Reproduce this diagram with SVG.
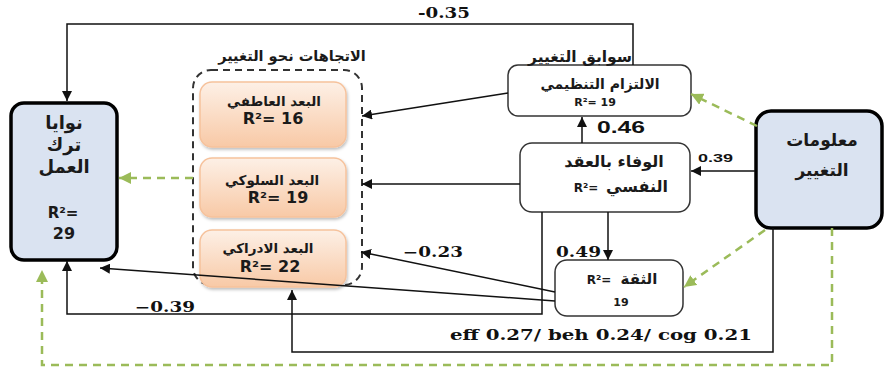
<svg xmlns="http://www.w3.org/2000/svg" width="885" height="367" viewBox="0 0 885 367">
<defs>
<marker id="ab" viewBox="0 0 10 10" refX="10" refY="5" markerWidth="10" markerHeight="10" markerUnits="userSpaceOnUse" orient="auto">
<path d="M0,0 L10,5 L0,10 z" fill="#111"/>
</marker>
<marker id="ag" viewBox="0 0 10 10" refX="10" refY="5" markerWidth="12" markerHeight="12" markerUnits="userSpaceOnUse" orient="auto">
<path d="M0,0 L10,5 L0,10 z" fill="#9bbb59"/>
</marker>
<linearGradient id="og" x1="0" y1="0" x2="0" y2="1">
<stop offset="0" stop-color="#fdf0e6"/>
<stop offset="1" stop-color="#f8c9a6"/>
</linearGradient>
<filter id="sh" x="-10%" y="-10%" width="120%" height="130%">
<feDropShadow dx="1" dy="2" stdDeviation="1.5" flood-color="#000" flood-opacity="0.25"/>
</filter>
</defs>
<style>
.ar{font-family:"DejaVu Sans","Noto Sans",sans-serif;font-weight:bold;fill:#1a1a1a;text-anchor:middle}
.lb{font-family:"DejaVu Sans","Liberation Sans",sans-serif;font-weight:bold;fill:#1a1a1a;text-anchor:middle}
.num{font-family:"DejaVu Serif","Liberation Serif",serif;font-weight:bold;fill:#111}
.nums{font-family:"Liberation Sans","DejaVu Sans",sans-serif;font-weight:bold;fill:#111}
.blk{fill:none;stroke:#111;stroke-width:1.5}
.grn{fill:none;stroke:#9bbb59;stroke-width:2.5;stroke-dasharray:8,6}
.orb{fill:url(#og);stroke:#f6c29c;stroke-width:1.5;filter:url(#sh)}
.wb{fill:#fff;stroke:#333;stroke-width:1.5}
.bb{fill:#dae3f1;stroke:#000;stroke-width:3.5}
</style>

<g id="intent">
<rect class="bb" x="11" y="103" width="106" height="157" rx="13"/>
<text class="ar" x="64" y="129" font-size="18">نوايا</text>
<text class="ar" x="64" y="151" font-size="18">ترك</text>
<text class="ar" x="64" y="173" font-size="18">العمل</text>
<text class="lb" x="63" y="218" font-size="15">R²=</text>
<text class="lb" x="64" y="239" font-size="16">29</text>
</g>

<g id="attitudes">
<rect x="193" y="70" width="169" height="215" rx="18" fill="none" stroke="#333" stroke-width="2" stroke-dasharray="7,5"/>
<text class="ar" x="292" y="61" font-size="14.5">الاتجاهات نحو التغيير</text>
</g>

<g id="affective">
<rect class="orb" x="200" y="82" width="146" height="65" rx="12"/>
<text class="ar" x="274" y="106" font-size="13.5">البعد العاطفي</text>
<text class="lb" x="273" y="124" font-size="16">R²= 16</text>
</g>

<g id="behavioral">
<rect class="orb" x="200" y="158" width="146" height="59" rx="12"/>
<text class="ar" x="272" y="185" font-size="13.5">البعد السلوكي</text>
<text class="lb" x="278" y="203" font-size="16">R²= 19</text>
</g>

<g id="cognitive">
<rect class="orb" x="200" y="230" width="146" height="57" rx="12"/>
<text class="ar" x="268" y="253" font-size="13.5">البعد الادراكي</text>
<text class="lb" x="270" y="272" font-size="16">R²= 22</text>
</g>

<g id="commitment">
<rect class="wb" x="508" y="65" width="183" height="51" rx="10"/>
<text class="ar" x="580" y="62" font-size="15.5">سوابق التغيير</text>
<text class="ar" x="600" y="89" font-size="14">الالتزام التنظيمي</text>
<text class="lb" x="595" y="106" font-size="11">R²= 19</text>
</g>

<g id="contract">
<rect class="wb" x="520" y="143" width="170" height="69" rx="12"/>
<text class="ar" x="614" y="167" font-size="16">الوفاء بالعقد</text>
<text class="ar" x="637" y="192" font-size="16">النفسي</text>
<text class="lb" x="586" y="192" font-size="12">R²=</text>
</g>

<g id="trust">
<rect class="wb" x="555" y="260" width="128" height="56" rx="12"/>
<text class="ar" x="639" y="284" font-size="15">الثقة</text>
<text class="lb" x="599" y="284" font-size="12">R²=</text>
<text class="lb" x="621" y="306" font-size="11">19</text>
</g>

<g id="info">
<rect class="bb" x="756" y="111" width="126" height="117" rx="15"/>
<text class="ar" x="822" y="146" font-size="17" font-weight="normal">معلومات</text>
<text class="ar" x="822" y="176" font-size="17" font-weight="normal">التغيير</text>
</g>

<g id="connectors">
<path class="blk" d="M633,65 V24 H67 V101" marker-end="url(#ab)"/>
<path class="blk" d="M508,93 L362,116" marker-end="url(#ab)"/>
<path class="blk" d="M520,184 H362" marker-end="url(#ab)"/>
<path class="blk" d="M755,171 H691" marker-end="url(#ab)"/>
<path class="blk" d="M582,143 V117" marker-end="url(#ab)"/>
<path class="blk" d="M608,212 V260" marker-end="url(#ab)"/>
<path class="blk" d="M555,292 L361,252" marker-end="url(#ab)"/>
<path class="blk" d="M555,301 L100,268" marker-end="url(#ab)"/>
<path class="blk" d="M542,212 V314 H67 V261" marker-end="url(#ab)"/>
<path class="blk" d="M773,228 V352 H292 V290" marker-end="url(#ab)"/>
<path class="grn" d="M832,228 V365 H42 V270" marker-end="url(#ag)"/>
<path class="grn" d="M193,178 H119" marker-end="url(#ag)"/>
<path class="grn" d="M757,126 L691,94" marker-end="url(#ag)"/>
<path class="grn" d="M765,230 L684,287" marker-end="url(#ag)"/>
<text class="num" x="418" y="18" font-size="15" textLength="52" lengthAdjust="spacingAndGlyphs">-0.35</text>
<text class="nums" x="597" y="133" font-size="16" textLength="48" lengthAdjust="spacingAndGlyphs">0.46</text>
<text class="nums" x="698" y="162" font-size="11" textLength="35" lengthAdjust="spacingAndGlyphs">0.39</text>
<text class="num" x="403" y="257" font-size="14" textLength="60" lengthAdjust="spacingAndGlyphs">−0.23</text>
<text class="num" x="556" y="257" font-size="14" textLength="45" lengthAdjust="spacingAndGlyphs">0.49</text>
<text class="num" x="135" y="312" font-size="14" textLength="60" lengthAdjust="spacingAndGlyphs">−0.39</text>
<text class="num" x="450" y="340" font-size="15" textLength="302" lengthAdjust="spacingAndGlyphs">eff 0.27/ beh 0.24/ cog 0.21</text>
</g>
</svg>
